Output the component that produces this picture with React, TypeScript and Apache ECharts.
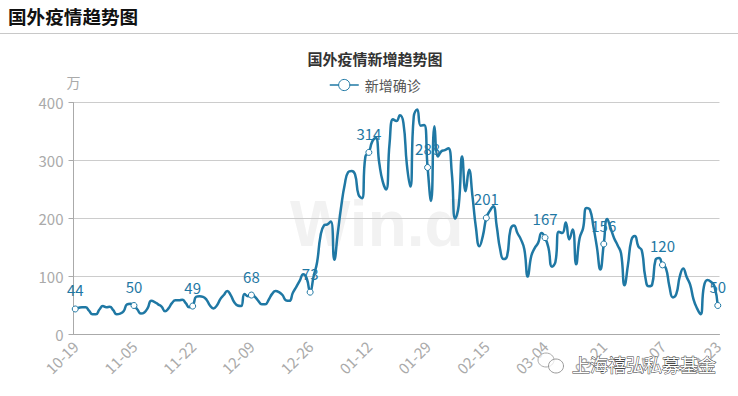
import React, { useEffect, useRef } from "react";
import * as echarts from "echarts";

const FONT = '"Noto Sans CJK SC", "Noto Sans", sans-serif';
const LINE = "#1f78a4";

const categories = [
  "10-19","10-20","10-21","10-22","10-23","10-24","10-25","10-26","10-27","10-28","10-29","10-30","10-31",
  "11-01","11-02","11-03","11-04","11-05","11-06","11-07","11-08","11-09","11-10","11-11","11-12","11-13","11-14","11-15","11-16","11-17","11-18","11-19","11-20","11-21","11-22","11-23","11-24","11-25","11-26","11-27","11-28","11-29","11-30",
  "12-01","12-02","12-03","12-04","12-05","12-06","12-07","12-08","12-09","12-10","12-11","12-12","12-13","12-14","12-15","12-16","12-17","12-18","12-19","12-20","12-21","12-22","12-23","12-24","12-25","12-26","12-27","12-28","12-29","12-30","12-31",
  "01-01","01-02","01-03","01-04","01-05","01-06","01-07","01-08","01-09","01-10","01-11","01-12","01-13","01-14","01-15","01-16","01-17","01-18","01-19","01-20","01-21","01-22","01-23","01-24","01-25","01-26","01-27","01-28","01-29","01-30","01-31",
  "02-01","02-02","02-03","02-04","02-05","02-06","02-07","02-08","02-09","02-10","02-11","02-12","02-13","02-14","02-15","02-16","02-17","02-18","02-19","02-20","02-21","02-22","02-23","02-24","02-25","02-26","02-27","02-28",
  "03-01","03-02","03-03","03-04","03-05","03-06","03-07","03-08","03-09","03-10","03-11","03-12","03-13","03-14","03-15","03-16","03-17","03-18","03-19","03-20","03-21","03-22","03-23","03-24","03-25","03-26","03-27","03-28","03-29","03-30","03-31",
  "04-01","04-02","04-03","04-04","04-05","04-06","04-07","04-08","04-09","04-10","04-11","04-12","04-13","04-14","04-15","04-16","04-17","04-18","04-19","04-20","04-21","04-22","04-23",
];

const newCases = [
  44,46,47,47,41,35,35,43,49,47,48,42,35,36,40,52,53,50,43,36,38,46,58,56,52,48,40,45,54,59,59,60,54,47,49,
  65,66,65,60,50,45,50,61,68,75,68,56,50,49,70,66,68,65,58,52,52,60,70,75,73,68,59,58,72,82,93,104,97,73,
  100,124,170,188,190,195,129,175,221,258,280,282,276,241,235,307,314,
  333,339,296,264,250,330,371,368,378,365,293,255,376,388,360,361,288,
  230,359,307,316,318,321,279,200,222,307,247,284,238,184,152,170,201,
  213,221,187,147,130,135,181,188,175,164,147,100,135,149,158,175,167,
  149,117,125,177,175,193,164,181,121,166,183,218,215,186,151,112,156,
  199,183,166,154,140,85,120,163,170,152,145,100,83,86,129,132,120,
  114,83,64,70,100,114,99,86,60,45,35,83,94,91,84,50,
];

const TICK_STEP = 17;
const isTick = (i: number) => i % TICK_STEP === 0 || i === categories.length - 1;

export default function App() {
  const ref = useRef<HTMLDivElement>(null);
  useEffect(() => {
    const chart = echarts.init(ref.current!, undefined, { renderer: "svg" });
    chart.setOption({
      animation: false,
      textStyle: { fontFamily: FONT },
      title: {
        text: "国外疫情新增趋势图",
        left: 370,
        top: 46,
        textAlign: "center",
        textStyle: { fontSize: 15, fontWeight: "bold", color: "#333", fontFamily: FONT },
      },
      legend: {
        left: 324,
        top: 73,
        itemWidth: 29,
        itemHeight: 14,
        itemGap: 6,
        lineStyle: { width: 1.5 },
        itemStyle: { borderWidth: 1 },
        textStyle: { fontSize: 14, color: "#555", fontFamily: FONT, padding: [0, 0, 0, 1] },
        data: ["新增确诊"],
      },
      grid: { left: 73.5, right: 18.5, top: 102.5, bottom: 61.5 },
      xAxis: {
        type: "category",
        data: categories,
        boundaryGap: true,
        axisLine: { lineStyle: { color: "#aaa" } },
        axisTick: { alignWithLabel: true, interval: (i: number) => isTick(i), lineStyle: { color: "#aaa" } },
        axisLabel: {
          interval: (i: number) => isTick(i),
          rotate: 45,
          color: "#aaa",
          fontSize: 15,
          fontFamily: FONT,
          margin: 9,
        },
      },
      yAxis: {
        type: "value",
        min: 0,
        max: 400,
        interval: 100,
        name: "万",
        nameGap: 14,
        nameTextStyle: { color: "#aaa", fontSize: 14, fontFamily: FONT },
        axisLine: { show: true, lineStyle: { color: "#aaa" } },
        axisTick: { show: true, lineStyle: { color: "#aaa" } },
        axisLabel: { color: "#aaa", fontSize: 15, fontFamily: FONT, margin: 10 },
        splitLine: { lineStyle: { color: "#ccc" } },
      },
      series: [
        {
          name: "新增确诊",
          type: "line",
          smooth: true,
          symbol: "circle",
          symbolSize: 6,
          showAllSymbol: true,
          lineStyle: { color: LINE, width: 2.5 },
          itemStyle: { color: "#fff", borderColor: LINE, borderWidth: 1 },
          data: newCases.map((v, i) =>
            isTick(i)
              ? {
                  value: v,
                  label: {
                    show: true,
                    position: "top",
                    distance: 8,
                    color: LINE,
                    fontSize: 15,
                    fontFamily: FONT,
                  },
                }
              : { value: v, symbol: "none" }
          ),
        },
      ],
      graphic: [
        {
          type: "text",
          x: 8,
          y: 6,
          style: { text: "国外疫情趋势图", fill: "#111", font: `bold 18.6px ${FONT}` },
        },
        {
          type: "line",
          shape: { x1: 0, y1: 33.5, x2: 738, y2: 33.5 },
          style: { stroke: "#c8c8c8", lineWidth: 1 },
        },
        {
          type: "text",
          x: 290,
          y: 192,
          z: -1,
          style: { text: "Win.d", fill: "#f2f2f2", font: `bold 64px "Liberation Sans", sans-serif` },
        },
        {
          type: "ellipse",
          z: 100,
          shape: { cx: 546, cy: 360, rx: 8, ry: 7 },
          style: { fill: "rgba(255,255,255,0.6)", stroke: "#aaa", lineWidth: 1 },
        },
        {
          type: "ellipse",
          z: 101,
          shape: { cx: 556, cy: 366, rx: 7.5, ry: 7 },
          style: { fill: "rgba(255,255,255,0.7)", stroke: "#999", lineWidth: 1 },
        },
        {
          type: "text",
          z: 102,
          x: 572,
          y: 355,
          style: {
            text: "上海禧弘私募基金",
            fill: "#fff",
            stroke: "#444",
            lineWidth: 1,
            font: `18px ${FONT}`,
          },
        },
      ],
    });
    return () => chart.dispose();
  }, []);
  return <div ref={ref} style={{ position: "absolute", left: 0, top: 0, width: 738, height: 396 }} />;
}
